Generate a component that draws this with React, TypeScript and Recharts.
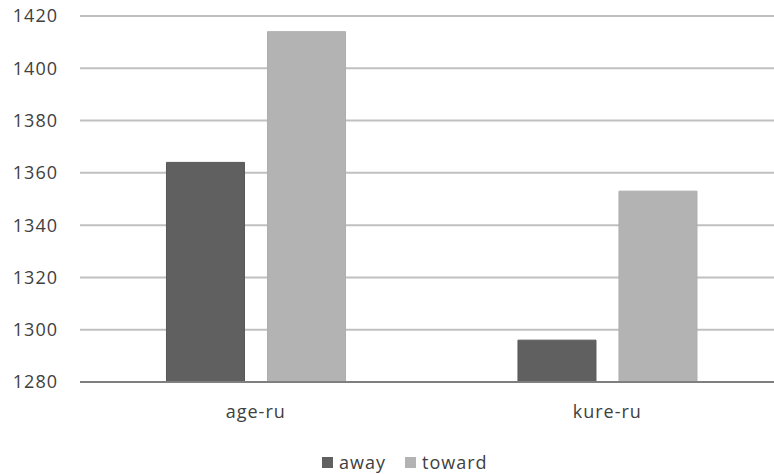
import React from "react";
import { BarChart, Bar, XAxis, YAxis, CartesianGrid, Legend } from "recharts";

const categories = ["age-ru", "kure-ru"];
const away = [1364, 1296];
const toward = [1414, 1353];
const yTicks = [1280, 1300, 1320, 1340, 1360, 1380, 1400, 1420];

const data = categories.map((name, i) => ({ name, away: away[i], toward: toward[i] }));

const FONT = "'Open Sans', 'Noto Sans', sans-serif";
const tickStyle = { fill: "#404040", fontSize: 18, fontFamily: FONT, letterSpacing: 1 };

function LegendContent() {
  const items = [
    { label: "away", color: "#606060" },
    { label: "toward", color: "#b3b3b3" },
  ];
  return (
    <div
      style={{
        display: "flex",
        paddingLeft: 322,
        paddingTop: 16,
        fontFamily: FONT,
        fontSize: 18,
        letterSpacing: 1,
        lineHeight: "24px",
        color: "#404040",
      }}
    >
      {items.map((it) => (
        <div key={it.label} style={{ display: "flex", alignItems: "center", marginRight: 19 }}>
          <span style={{ width: 11, height: 11, background: it.color, display: "inline-block", marginRight: 6 }} />
          <span>{it.label}</span>
        </div>
      ))}
    </div>
  );
}

export default function App() {
  return (
    <div style={{ position: "absolute", left: 0, top: 0, width: 774, height: 474, overflow: "hidden", background: "#fff" }}>
      <BarChart
        width={790}
        height={474}
        data={data}
        margin={{ top: 16, right: 7, left: 0, bottom: 0 }}
        barCategoryGap="24.6%"
        barGap={23}
      >
        <CartesianGrid vertical={false} stroke="#c0c0c0" strokeWidth={2} />
        <XAxis
          dataKey="name"
          height={52}
          tickLine={false}
          axisLine={{ stroke: "#7f7f7f", strokeWidth: 2 }}
          tick={tickStyle}
          tickMargin={17}
        />
        <YAxis
          domain={[1280, 1420]}
          ticks={yTicks}
          width={80}
          tickLine={false}
          axisLine={false}
          tick={tickStyle}
          tickMargin={16}
          interval={0}
        />
        <Legend verticalAlign="bottom" height={40} content={<LegendContent />} wrapperStyle={{ left: 0, width: 790 }} />
        <Bar dataKey="away" fill="#606060" stroke="#575757" isAnimationActive={false} />
        <Bar dataKey="toward" fill="#b3b3b3" stroke="#adadad" isAnimationActive={false} />
      </BarChart>
    </div>
  );
}
